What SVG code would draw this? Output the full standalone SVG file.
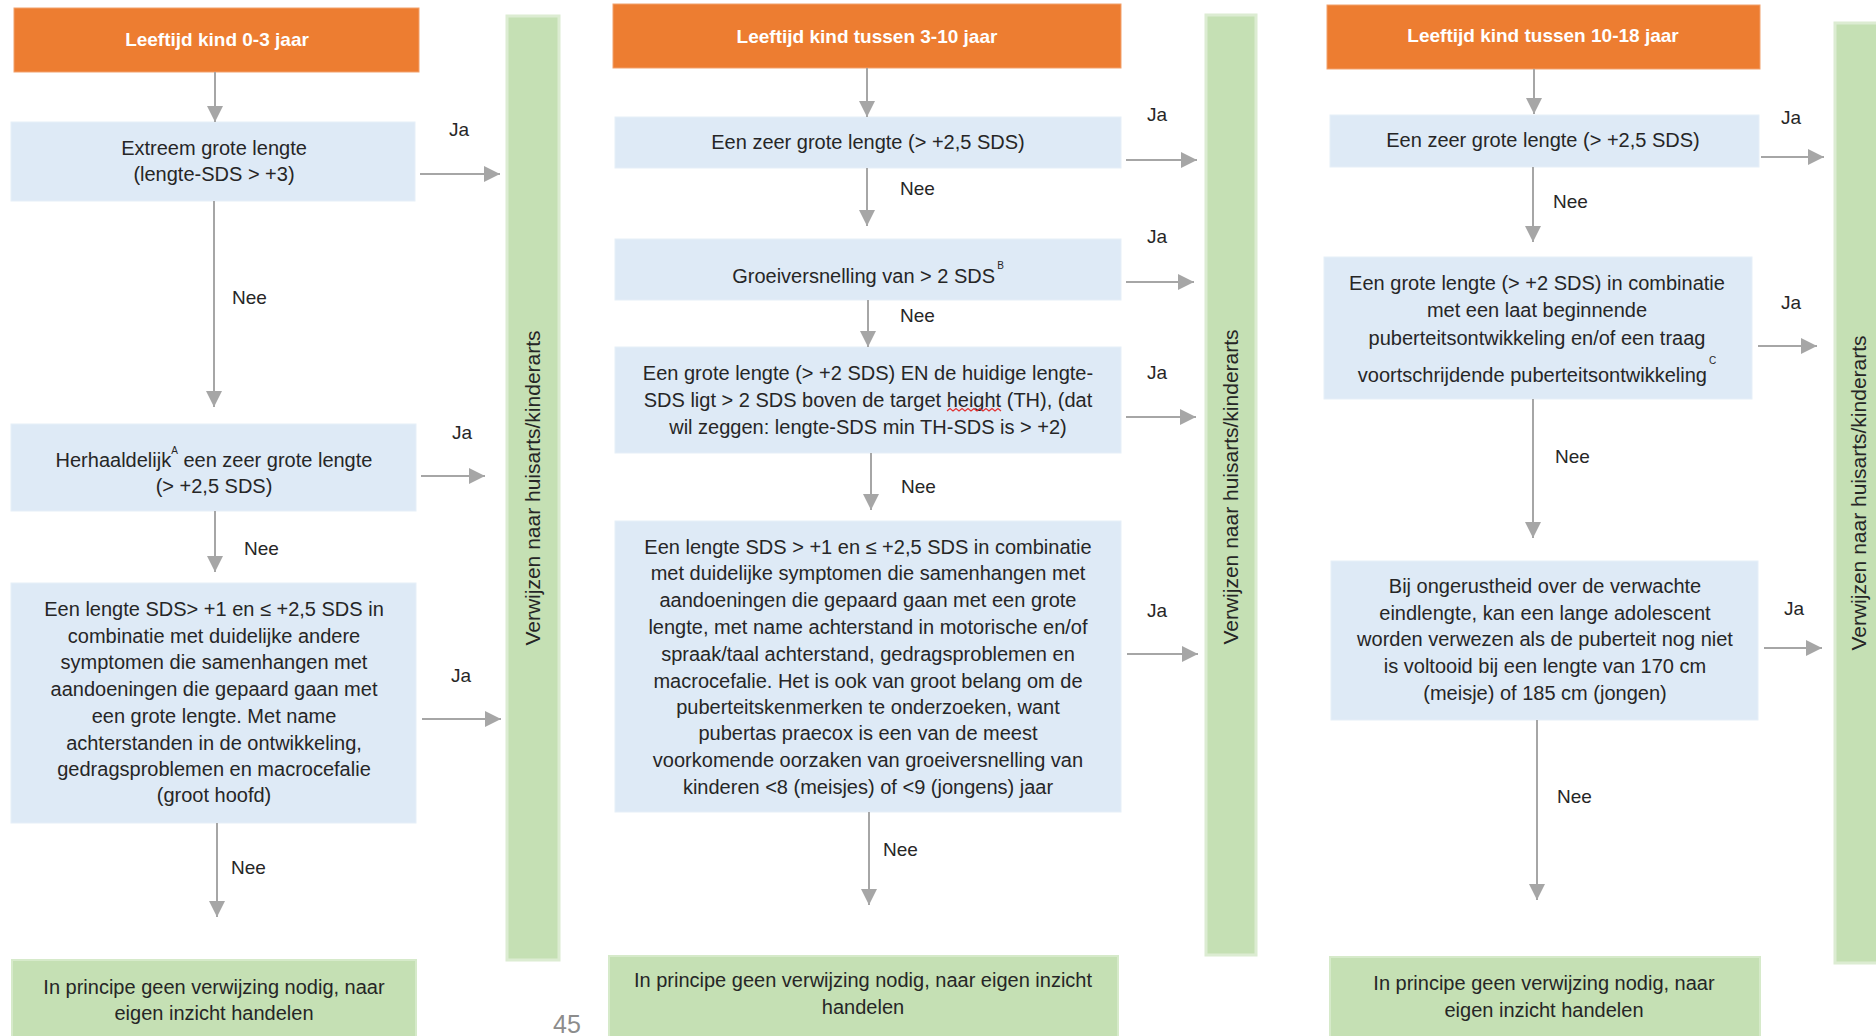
<svg xmlns="http://www.w3.org/2000/svg" width="1876" height="1036" viewBox="0 0 1876 1036">
<defs>
<style>
text{font-family:"Liberation Sans",Arial,sans-serif;fill:#262626}
.hd rect{fill:#ED7D31;stroke:#F2A16D;stroke-width:1}
.hd text{fill:#ffffff;font-weight:bold;font-size:19px;text-anchor:middle}
.q rect{fill:#DEEAF6;stroke:#E6EFF8;stroke-width:1}
.q text{font-size:20px;text-anchor:middle}
.end rect{fill:#C5E0B4;stroke:#D6EACA;stroke-width:2}
.end text{font-size:20px;text-anchor:middle}
.bar rect{fill:#C5E0B4;stroke:#DCECD2;stroke-width:3}
.bar text{font-size:21px;text-anchor:middle}
.sup{font-size:10px}
.lbl{font-size:19px}
#connectors line{stroke:#A6A6A6;stroke-width:2;marker-end:url(#ah)}
</style>
<marker id="ah" viewBox="0 0 16 16" refX="16" refY="8" markerWidth="16" markerHeight="16" markerUnits="userSpaceOnUse" orient="auto">
<path d="M0,0 L16,8 L0,16 z" fill="#A6A6A6"/>
</marker>
</defs>
<rect width="1876" height="1036" fill="#ffffff"/>

<!-- Column 1 -->
<g id="h1" class="hd"><rect x="14" y="8" width="405" height="64"/><text x="217" y="46">Leeftijd kind 0-3 jaar</text></g>
<g id="c1q1" class="q"><rect x="11" y="122" width="404" height="79"/>
<text x="214" y="155">Extreem grote lengte</text>
<text x="214" y="181">(lengte-SDS &gt; +3)</text></g>
<g id="c1q2" class="q"><rect x="11" y="424" width="405" height="87"/>
<text x="214" y="467">Herhaaldelijk<tspan class="sup" dy="-13">A</tspan><tspan dy="13"> een zeer grote lengte</tspan></text>
<text x="214" y="493">(&gt; +2,5 SDS)</text></g>
<g id="c1q3" class="q"><rect x="11" y="583" width="405" height="240"/>
<text x="214" y="616">Een lengte SDS&gt; +1 en ≤ +2,5 SDS in</text>
<text x="214" y="643">combinatie met duidelijke andere</text>
<text x="214" y="669">symptomen die samenhangen met</text>
<text x="214" y="696">aandoeningen die gepaard gaan met</text>
<text x="214" y="723">een grote lengte. Met name</text>
<text x="214" y="750">achterstanden in de ontwikkeling,</text>
<text x="214" y="776">gedragsproblemen en macrocefalie</text>
<text x="214" y="802">(groot hoofd)</text></g>
<g id="c1end" class="end"><rect x="12" y="960" width="404" height="90"/>
<text x="214" y="994">In principe geen verwijzing nodig, naar</text>
<text x="214" y="1020">eigen inzicht handelen</text></g>
<g id="bar1" class="bar"><rect x="507" y="16" width="52" height="944"/>
<text transform="translate(533,488) rotate(-90)" y="7">Verwijzen naar huisarts/kinderarts</text></g>

<!-- Column 2 -->
<g id="h2" class="hd"><rect x="613" y="4" width="508" height="64"/><text x="867" y="43">Leeftijd kind tussen 3-10 jaar</text></g>
<g id="c2q1" class="q"><rect x="615" y="117" width="506" height="51"/>
<text x="868" y="149">Een zeer grote lengte (&gt; +2,5 SDS)</text></g>
<g id="c2q2" class="q"><rect x="615" y="239" width="506" height="61"/>
<text x="868" y="283">Groeiversnelling van &gt; 2 SDS<tspan class="sup" dx="2" dy="-14">B</tspan></text></g>
<g id="c2q3" class="q"><rect x="615" y="347" width="506" height="106"/>
<text x="868" y="380">Een grote lengte (&gt; +2 SDS) EN de huidige lengte-</text>
<text x="868" y="407">SDS ligt &gt; 2 SDS boven de target height (TH), (dat</text>
<text x="868" y="434">wil zeggen: lengte-SDS min TH-SDS is &gt; +2)</text>
<path d="M947,411 l3,-2.5 l3,2.5 l3,-2.5 l3,2.5 l3,-2.5 l3,2.5 l3,-2.5 l3,2.5 l3,-2.5 l3,2.5 l3,-2.5 l3,2.5 l3,-2.5 l3,2.5 l3,-2.5 l3,2.5 l3,-2.5 l3,2.5" fill="none" stroke="#E03030" stroke-width="1.2"/></g>
<g id="c2q4" class="q"><rect x="615" y="521" width="506" height="291"/>
<text x="868" y="554">Een lengte SDS &gt; +1 en ≤ +2,5 SDS in combinatie</text>
<text x="868" y="580">met duidelijke symptomen die samenhangen met</text>
<text x="868" y="607">aandoeningen die gepaard gaan met een grote</text>
<text x="868" y="634">lengte, met name achterstand in motorische en/of</text>
<text x="868" y="661">spraak/taal achterstand, gedragsproblemen en</text>
<text x="868" y="688">macrocefalie. Het is ook van groot belang om de</text>
<text x="868" y="714">puberteitskenmerken te onderzoeken, want</text>
<text x="868" y="740">pubertas praecox is een van de meest</text>
<text x="868" y="767">voorkomende oorzaken van groeiversnelling van</text>
<text x="868" y="794">kinderen &lt;8 (meisjes) of &lt;9 (jongens) jaar</text></g>
<g id="c2end" class="end"><rect x="609" y="956" width="509" height="90"/>
<text x="863" y="987">In principe geen verwijzing nodig, naar eigen inzicht</text>
<text x="863" y="1014">handelen</text></g>
<g id="bar2" class="bar"><rect x="1206" y="15" width="50" height="940"/>
<text transform="translate(1231,487) rotate(-90)" y="7">Verwijzen naar huisarts/kinderarts</text></g>

<!-- Column 3 -->
<g id="h3" class="hd"><rect x="1327" y="5" width="433" height="64"/><text x="1543" y="42">Leeftijd kind tussen 10-18 jaar</text></g>
<g id="c3q1" class="q"><rect x="1330" y="115" width="429" height="52"/>
<text x="1543" y="147">Een zeer grote lengte (&gt; +2,5 SDS)</text></g>
<g id="c3q2" class="q"><rect x="1324" y="257" width="428" height="142"/>
<text x="1537" y="290">Een grote lengte (&gt; +2 SDS) in combinatie</text>
<text x="1537" y="317">met een laat beginnende</text>
<text x="1537" y="345">puberteitsontwikkeling en/of een traag</text>
<text x="1537" y="382">voortschrijdende puberteitsontwikkeling<tspan class="sup" dx="2" dy="-18">C</tspan></text></g>
<g id="c3q3" class="q"><rect x="1331" y="561" width="427" height="159"/>
<text x="1545" y="593">Bij ongerustheid over de verwachte</text>
<text x="1545" y="620">eindlengte, kan een lange adolescent</text>
<text x="1545" y="646">worden verwezen als de puberteit nog niet</text>
<text x="1545" y="673">is voltooid bij een lengte van 170 cm</text>
<text x="1545" y="700">(meisje) of 185 cm (jongen)</text></g>
<g id="c3end" class="end"><rect x="1330" y="957" width="430" height="90"/>
<text x="1544" y="990">In principe geen verwijzing nodig, naar</text>
<text x="1544" y="1017">eigen inzicht handelen</text></g>
<g id="bar3" class="bar"><rect x="1835" y="23" width="60" height="940"/>
<text transform="translate(1859,493) rotate(-90)" y="7">Verwijzen naar huisarts/kinderarts</text></g>

<!-- Connectors -->
<g id="connectors">
<line x1="215" y1="72" x2="215" y2="122"/>
<line x1="214" y1="201" x2="214" y2="407"/>
<line x1="215" y1="511" x2="215" y2="572"/>
<line x1="217" y1="823" x2="217" y2="917"/>
<line x1="420" y1="174" x2="500" y2="174"/>
<line x1="421" y1="476" x2="485" y2="476"/>
<line x1="422" y1="719" x2="501" y2="719"/>

<line x1="867" y1="68" x2="867" y2="117"/>
<line x1="867" y1="168" x2="867" y2="226"/>
<line x1="868" y1="300" x2="868" y2="347"/>
<line x1="871" y1="453" x2="871" y2="510"/>
<line x1="869" y1="812" x2="869" y2="905"/>
<line x1="1126" y1="160" x2="1197" y2="160"/>
<line x1="1126" y1="282" x2="1194" y2="282"/>
<line x1="1126" y1="417" x2="1196" y2="417"/>
<line x1="1127" y1="654" x2="1198" y2="654"/>

<line x1="1534" y1="69" x2="1534" y2="114"/>
<line x1="1533" y1="167" x2="1533" y2="242"/>
<line x1="1533" y1="399" x2="1533" y2="538"/>
<line x1="1537" y1="720" x2="1537" y2="900"/>
<line x1="1761" y1="157" x2="1824" y2="157"/>
<line x1="1758" y1="346" x2="1817" y2="346"/>
<line x1="1764" y1="648" x2="1822" y2="648"/>

<text class="lbl" x="449" y="136">Ja</text>
<text class="lbl" x="452" y="439">Ja</text>
<text class="lbl" x="451" y="682">Ja</text>
<text class="lbl" x="232" y="304">Nee</text>
<text class="lbl" x="244" y="555">Nee</text>
<text class="lbl" x="231" y="874">Nee</text>

<text class="lbl" x="1147" y="121">Ja</text>
<text class="lbl" x="1147" y="243">Ja</text>
<text class="lbl" x="1147" y="379">Ja</text>
<text class="lbl" x="1147" y="617">Ja</text>
<text class="lbl" x="900" y="195">Nee</text>
<text class="lbl" x="900" y="322">Nee</text>
<text class="lbl" x="901" y="493">Nee</text>
<text class="lbl" x="883" y="856">Nee</text>

<text class="lbl" x="1781" y="124">Ja</text>
<text class="lbl" x="1781" y="309">Ja</text>
<text class="lbl" x="1784" y="615">Ja</text>
<text class="lbl" x="1553" y="208">Nee</text>
<text class="lbl" x="1555" y="463">Nee</text>
<text class="lbl" x="1557" y="803">Nee</text>
</g>

<text x="553" y="1033" style="font-size:25px;fill:#8C8C8C">45</text>
</svg>
